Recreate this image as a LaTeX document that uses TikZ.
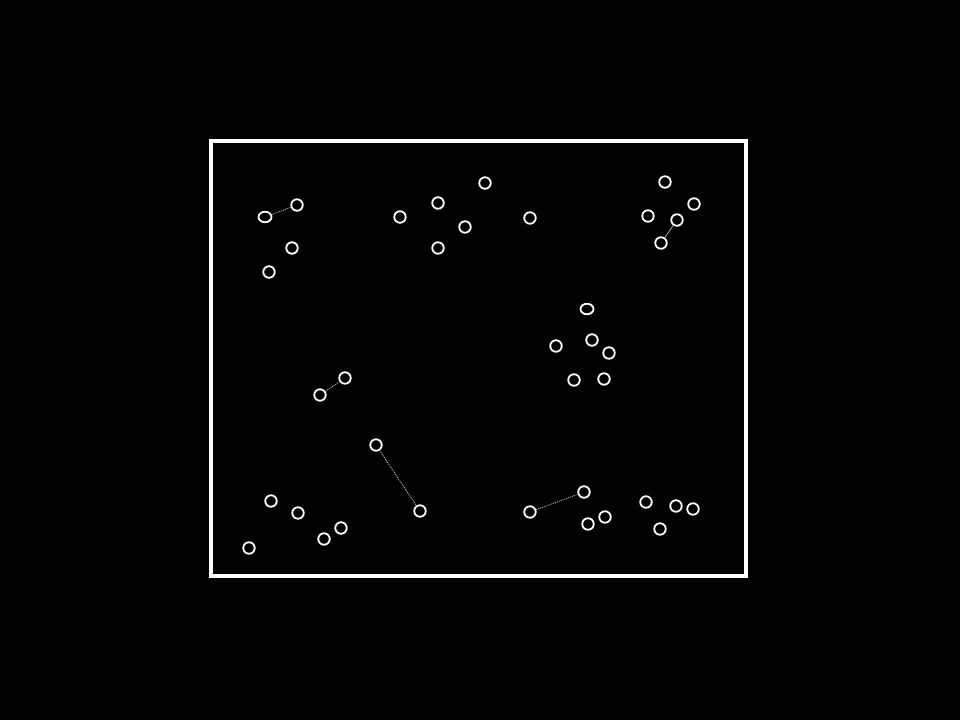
\documentclass[tikz,border=0pt]{standalone}
\usetikzlibrary{shapes.geometric}
\begin{document}
\begin{tikzpicture}[x=1pt,y=-1pt,
  dot/.style={draw=white,line width=1.8pt,circle,minimum size=11.5pt,inner sep=0pt},
  oval/.style={draw=white,line width=1.8pt,ellipse,minimum width=13pt,minimum height=10.5pt,inner sep=0pt},
  link/.style={draw=white!85!black,line width=0.7pt,dash pattern=on 1pt off 1pt},
  solidlink/.style={draw=white!75!black,line width=0.7pt}]
\fill[black] (0,0) rectangle (960,720);
\useasboundingbox (0,0) rectangle (960,720);
\draw[white,line width=4pt] (211,141) rectangle (746,576);
% top-left
\node[oval] (a1) at (265,217) {};
\node[dot] (a2) at (297,205) {};
\node[dot] (a3) at (292,248) {};
\node[dot] (a4) at (269,272) {};
% top-middle
\node[dot] (b1) at (400,217) {};
\node[dot] (b2) at (438,203) {};
\node[dot] (b3) at (485,183) {};
\node[dot] (b4) at (465,227) {};
\node[dot] (b5) at (438,248) {};
\node[dot] (b6) at (530,218) {};
% top-right
\node[dot] (c1) at (665,182) {};
\node[dot] (c2) at (694,204) {};
\node[dot] (c3) at (648,216) {};
\node[dot] (c4) at (677,220) {};
\node[dot] (c5) at (661,243) {};
% middle-right
\node[oval] (d1) at (587,309) {};
\node[dot] (d2) at (556,346) {};
\node[dot] (d3) at (592,340) {};
\node[dot] (d4) at (609,353) {};
\node[dot] (d5) at (574,380) {};
\node[dot] (d6) at (604,379) {};
% middle-left
\node[dot] (e1) at (345,378) {};
\node[dot] (e2) at (320,395) {};
\node[dot] (f1) at (376,445) {};
\node[dot] (f2) at (420,511) {};
% bottom-left
\node[dot] (g1) at (271,501) {};
\node[dot] (g2) at (298,513) {};
\node[dot] (g3) at (341,528) {};
\node[dot] (g4) at (324,539) {};
\node[dot] (g5) at (249,548) {};
% bottom-middle
\node[dot] (h1) at (530,512) {};
\node[dot] (h2) at (584,492) {};
\node[dot] (h3) at (588,524) {};
\node[dot] (h4) at (605,517) {};
% bottom-right
\node[dot] (i1) at (646,502) {};
\node[dot] (i2) at (676,506) {};
\node[dot] (i3) at (693,509) {};
\node[dot] (i4) at (660,529) {};
% connectors
\draw[link] (a1) -- (a2);
\draw[link] (e2) -- (e1);
\draw[link] (f1) -- (f2);
\draw[link] (h1) -- (h2);
\draw[solidlink] (c5) -- (c4);
\end{tikzpicture}
\end{document}
